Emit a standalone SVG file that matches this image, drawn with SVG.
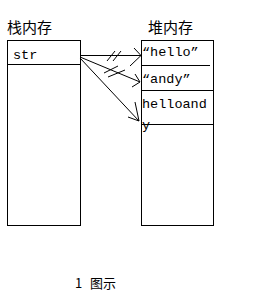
<svg xmlns="http://www.w3.org/2000/svg" width="255" height="305" viewBox="0 0 255 305">
<style>
.box{fill:none;stroke:#000;stroke-width:1}
.ln{fill:none;stroke:#000;stroke-width:1}
.t{font-family:"Noto Sans CJK SC","Noto Sans CJK JP",sans-serif;font-size:15px;fill:#000}
.c{font-family:"Noto Sans CJK SC","Noto Sans CJK JP",sans-serif;font-size:13px;fill:#000}
.m{font-family:"Liberation Mono","DejaVu Sans Mono",monospace;font-size:13.5px;fill:#000}
</style>
<rect width="255" height="305" fill="#fff"/>
<g id="stack">
<text class="t" x="7" y="33">栈内存</text>
<rect class="box" x="7.5" y="40.5" width="73" height="185"/>
<line class="ln" x1="7.5" y1="64.5" x2="80.5" y2="64.5"/>
<text class="m" x="13" y="59">str</text>
</g>
<g id="heap">
<text class="t" x="148" y="33">堆内存</text>
<rect class="box" x="141.5" y="40.5" width="72" height="185"/>
<line class="ln" x1="141.5" y1="65.5" x2="210" y2="65.5"/>
<line class="ln" x1="141.5" y1="90.5" x2="213.5" y2="90.5"/>
<line class="ln" x1="141.5" y1="124.5" x2="213.5" y2="124.5"/>
<text class="m" x="142" y="56">“hello”</text>
<text class="m" x="142" y="83">“andy”</text>
<text class="m" x="142" y="108">helloand</text>
<text class="m" x="142" y="129">y</text>
</g>
<g id="connectors">
<line class="ln" x1="80" y1="55.5" x2="141" y2="55.5"/>
<path class="ln" d="M134,48 L141,55.5 L130,66"/>
<path class="ln" d="M107,61 L115,51 M113,61 L121,51"/>
<line class="ln" x1="80" y1="57" x2="140" y2="82"/>
<path class="ln" d="M135,74 L140,82 L132,87"/>
<path class="ln" d="M104,73 L118,66 M108,77 L125,70"/>
<line class="ln" x1="80" y1="58" x2="139" y2="121"/>
<path class="ln" d="M135,102 L139,121 L128,117"/>
</g>
<g id="caption">
<text class="c" x="75" y="288">1</text>
<text class="c" x="90" y="288">图示</text>
</g>
</svg>
